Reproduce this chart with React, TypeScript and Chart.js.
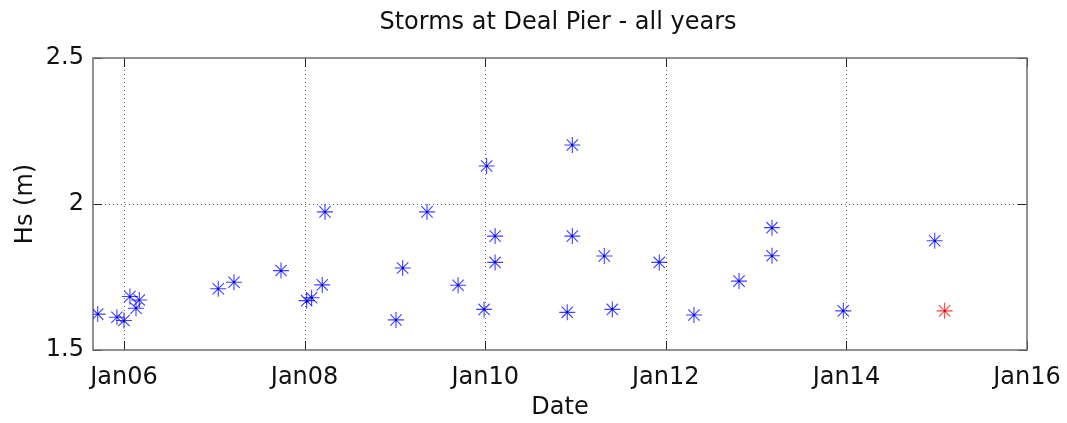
import React, { useEffect, useRef } from "react";
import { Chart, registerables } from "chart.js";

Chart.register(...registerables);

// x values are in years since 2000 (6 = Jan 2006)
const stormYears = [
  5.709, 5.922, 6.0, 6.066, 6.133, 6.17,
  7.044, 7.218, 7.739, 8.023, 8.078, 8.196, 8.226,
  9.012, 9.086, 9.356, 9.7, 9.988, 10.016, 10.11, 10.11,
  10.909, 10.965, 10.965, 11.319, 11.408, 11.928, 12.312,
  12.811, 13.176, 13.176, 13.966, 14.978,
];
const stormHs = [
  1.623, 1.612, 1.601, 1.683, 1.643, 1.671,
  1.71, 1.732, 1.772, 1.669, 1.679, 1.723, 1.973,
  1.603, 1.781, 1.973, 1.722, 1.639, 2.13, 1.89, 1.8,
  1.629, 2.202, 1.89, 1.822, 1.639, 1.8, 1.62,
  1.736, 1.919, 1.823, 1.634, 1.874,
];
const latestYears = [15.088];
const latestHs = [1.634];

const xTickValues = [6, 8, 10, 12, 14, 16];
const yTickValues = [1.5, 2, 2.5];
const xMin = 5.657;
const xMax = 16;
const yMin = 1.5;
const yMax = 2.5;

const titleText = "Storms at Deal Pier - all years";
const FONT = "'DejaVu Sans', sans-serif";

const framePlugin = {
  id: "matlabFrame",
  beforeDatasetsDraw(chart: any) {
    const { ctx, chartArea: a, scales } = chart;
    const xs = scales.x;
    const ys = scales.y;
    ctx.save();
    ctx.strokeStyle = "rgba(0,0,0,0.6)";
    ctx.lineWidth = 1;
    ctx.setLineDash([1, 3]);
    xTickValues.forEach((v) => {
      const px = Math.round(xs.getPixelForValue(v)) + 0.5;
      if (px > a.left + 1 && px < a.right - 1) {
        ctx.beginPath();
        ctx.moveTo(px, a.top);
        ctx.lineTo(px, a.bottom);
        ctx.stroke();
      }
    });
    yTickValues.forEach((v) => {
      const py = Math.round(ys.getPixelForValue(v)) + 0.5;
      if (py > a.top + 1 && py < a.bottom - 1) {
        ctx.beginPath();
        ctx.moveTo(a.left, py);
        ctx.lineTo(a.right, py);
        ctx.stroke();
      }
    });
    ctx.setLineDash([]);
    ctx.strokeStyle = "#222";
    const tl = 9;
    xTickValues.forEach((v) => {
      const px = Math.round(xs.getPixelForValue(v)) + 0.5;
      ctx.beginPath();
      ctx.moveTo(px, a.bottom);
      ctx.lineTo(px, a.bottom - tl);
      ctx.moveTo(px, a.top);
      ctx.lineTo(px, a.top + tl);
      ctx.stroke();
    });
    yTickValues.forEach((v) => {
      const py = Math.round(ys.getPixelForValue(v)) + 0.5;
      ctx.beginPath();
      ctx.moveTo(a.left, py);
      ctx.lineTo(a.left + tl, py);
      ctx.moveTo(a.right, py);
      ctx.lineTo(a.right - tl, py);
      ctx.stroke();
    });
    ctx.strokeStyle = "#6e6e6e";
    ctx.lineWidth = 1.5;
    ctx.strokeRect(a.left, a.top, a.right - a.left, a.bottom - a.top);
    ctx.restore();
  },
  afterDatasetsDraw(chart: any) {
    const { ctx } = chart;
    ctx.save();
    chart.data.datasets.forEach((ds: any, i: number) => {
      const meta = chart.getDatasetMeta(i);
      ctx.fillStyle = ds.dotColor;
      meta.data.forEach((el: any) => {
        ctx.fillRect(Math.round(el.x) - 1, Math.round(el.y) - 1, 2, 2);
      });
    });
    ctx.restore();
  },
  afterDraw(chart: any) {
    const { ctx, chartArea: a } = chart;
    ctx.save();
    ctx.fillStyle = "#111";
    ctx.font = `24px ${FONT}`;
    ctx.textAlign = "center";
    ctx.textBaseline = "middle";
    ctx.fillText(titleText, (a.left + a.right) / 2 - 2, 23);
    ctx.restore();
  },
};

export default function App() {
  const ref = useRef<HTMLCanvasElement | null>(null);
  useEffect(() => {
    document.body.style.margin = "0";
    if (!ref.current) return;
    const blue = stormYears.map((x, i) => ({ x, y: stormHs[i] }));
    const red = latestYears.map((x, i) => ({ x, y: latestHs[i] }));
    const chart = new Chart(ref.current, {
      type: "scatter",
      data: {
        datasets: [
          {
            label: "Storms",
            data: blue,
            pointStyle: "star",
            pointRadius: 8,
            pointBorderWidth: 1.1,
            borderColor: "rgba(0,0,255,0.75)",
            backgroundColor: "rgba(0,0,255,0.75)",
            dotColor: "#0000ff",
          } as any,
          {
            label: "Latest",
            data: red,
            pointStyle: "star",
            pointRadius: 8,
            pointBorderWidth: 1.1,
            borderColor: "rgba(255,0,0,0.75)",
            backgroundColor: "rgba(255,0,0,0.75)",
            dotColor: "#ff0000",
          } as any,
        ],
      },
      options: {
        responsive: false,
        animation: false,
        devicePixelRatio: 1,
        layout: { padding: { top: 58, right: 40, left: 0, bottom: 0 } },
        plugins: {
          legend: { display: false },
          tooltip: { enabled: false },
          title: { display: false },
        },
        scales: {
          x: {
            type: "linear",
            min: xMin,
            max: xMax,
            afterBuildTicks: (s: any) => {
              s.ticks = xTickValues.map((v) => ({ value: v }));
            },
            afterFit: (s: any) => {
              s.height = 73;
              s.paddingLeft = 0;
              s.paddingRight = 0;
            },
            grid: { display: false, drawTicks: false },
            border: { display: false },
            ticks: {
              padding: 13,
              color: "#111",
              font: { family: FONT, size: 24 },
              maxRotation: 0,
              autoSkip: false,
              callback: (v: any) => "Jan" + String(Math.round(Number(v))).padStart(2, "0"),
            },
            title: {
              display: true,
              text: "Date",
              color: "#111",
              font: { family: FONT, size: 24 },
              padding: { top: 0, bottom: 1 },
            },
          },
          y: {
            type: "linear",
            min: yMin,
            max: yMax,
            afterBuildTicks: (s: any) => {
              s.ticks = yTickValues.map((v) => ({ value: v }));
            },
            afterFit: (s: any) => {
              s.width = 93;
              s.paddingTop = 0;
              s.paddingBottom = 0;
            },
            grid: { display: false, drawTicks: false },
            border: { display: false },
            ticks: {
              padding: 9,
              color: "#111",
              font: { family: FONT, size: 24 },
              callback: (v: any) => String(v),
            },
            title: {
              display: true,
              text: "Hs (m)",
              color: "#111",
              font: { family: FONT, size: 24 },
              padding: { top: 11, bottom: 0 },
            },
          },
        },
      },
      plugins: [framePlugin],
    });
    return () => chart.destroy();
  }, []);
  return (
    <div style={{ width: 1067, height: 423 }}>
      <canvas ref={ref} width={1067} height={423} />
    </div>
  );
}
